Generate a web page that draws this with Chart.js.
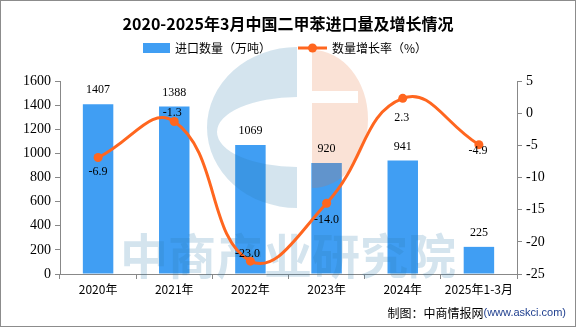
<!DOCTYPE html>
<html>
<head>
<meta charset="utf-8">
<script src="https://cdn.jsdelivr.net/npm/chart.js@4.4.1/dist/chart.umd.min.js"></script>
<style>
  html, body { margin: 0; padding: 0; background: #fff; }
  #wrap { width: 576px; height: 327px; border: 1px solid #8c8c8c; box-sizing: border-box; }
  canvas { display: block; }
</style>
</head>
<body>
<div id="wrap"><canvas id="chart" width="574" height="325"></canvas></div>
<script>
const categories = ['2020年', '2021年', '2022年', '2023年', '2024年', '2025年1-3月'];
const importVolume = [1407, 1388, 1069, 920, 941, 225];
const growthRate = [-6.9, -1.3, -23.0, -14.0, 2.3, -4.9];
const leftTicks = [0, 1600, 200];
const rightTicks = [-25, 5, 5];

const BAR_COLOR = '#409ef3';
const LINE_COLOR = '#ff661f';
const NUM_FONT = '"Liberation Serif", serif';
const CJK_FONT = '"Noto Sans CJK SC", sans-serif';

// --- Title, legend, footer ---
const decorPlugin = {
    id: 'decor',
    afterDraw(chart) {
        const ctx = chart.ctx;
        ctx.save();
        ctx.fillStyle = '#000';
        ctx.textBaseline = 'middle';
        ctx.textAlign = 'center';
        ctx.font = 'bold 16px ' + CJK_FONT;
        ctx.fillText('2020-2025年3月中国二甲苯进口量及增长情况', 287, 23);

        // legend
        ctx.font = '12px ' + CJK_FONT;
        ctx.textAlign = 'left';
        ctx.fillStyle = BAR_COLOR;
        ctx.fillRect(142, 42, 27, 10);
        ctx.fillStyle = '#000';
        ctx.fillText('进口数量（万吨）', 174, 47);
        ctx.strokeStyle = LINE_COLOR;
        ctx.lineWidth = 3;
        ctx.beginPath();
        ctx.moveTo(297, 47);
        ctx.lineTo(326, 47);
        ctx.stroke();
        ctx.fillStyle = LINE_COLOR;
        ctx.beginPath();
        ctx.arc(311.5, 47, 4.5, 0, Math.PI * 2);
        ctx.fill();
        ctx.fillStyle = '#000';
        ctx.fillText('数量增长率（%）', 331, 47);

        // footer
        ctx.textAlign = 'right';
        ctx.font = '11px "Liberation Sans", sans-serif';
        ctx.fillStyle = '#1f3f8f';
        ctx.fillText('(www.askci.com)', 565, 312);
        const w = ctx.measureText('(www.askci.com)').width;
        ctx.font = '12px ' + CJK_FONT;
        ctx.fillStyle = '#000';
        ctx.fillText('制图：中商情报网', 565 - w, 312);
        ctx.restore();
    }
};

// --- Watermark, drawn over the bars but under the line ---
const watermarkPlugin = {
    id: 'watermark',
    afterDatasetDraw(chart, args) {
        if (args.index !== 0) return;
        const ctx = chart.ctx;
        ctx.save();
        // blue C
        ctx.fillStyle = 'rgba(40,120,170,0.2)';
        ctx.beginPath();
        ctx.ellipse(296, 126.5, 90, 80.5, 0, Math.PI / 2, Math.PI * 1.5);
        ctx.closePath();
        ctx.ellipse(296, 131, 80, 35, 0, Math.PI * 1.5, Math.PI / 2, true);
        ctx.closePath();
        ctx.fill('evenodd');
        // orange half
        ctx.fillStyle = 'rgba(230,110,50,0.2)';
        ctx.beginPath();
        ctx.moveTo(311, 49);
        ctx.ellipse(311, 118, 56, 69, 0, -Math.PI / 2, Math.PI / 2);
        ctx.lineTo(311, 102);
        ctx.lineTo(357, 102);
        ctx.lineTo(357, 90);
        ctx.lineTo(311, 90);
        ctx.closePath();
        ctx.fill();
        // text
        ctx.fillStyle = 'rgba(40,120,170,0.2)';
        ctx.font = 'bold 48px ' + CJK_FONT;
        ctx.textAlign = 'center';
        ctx.textBaseline = 'middle';
        ctx.fillText('中商产业研究院', 287, 255);
        ctx.restore();
    }
};

// --- Value labels ---
const labelPlugin = {
    id: 'valueLabels',
    afterDatasetsDraw(chart) {
        const ctx = chart.ctx;
        ctx.save();
        ctx.font = '12px ' + NUM_FONT;
        ctx.fillStyle = '#000';
        ctx.textAlign = 'center';
        ctx.textBaseline = 'middle';
        chart.getDatasetMeta(0).data.forEach((bar, i) => {
            ctx.fillText(String(importVolume[i]), bar.x, bar.y - 14);
        });
        const offs = [[0, 14], [-2, -9], [-3, -7], [0, 17], [-1, 19], [-1, 6]];
        chart.getDatasetMeta(1).data.forEach((pt, i) => {
            ctx.fillText(growthRate[i].toFixed(1), pt.x + offs[i][0], pt.y + offs[i][1]);
        });
        ctx.restore();
    }
};

function initChart() {
    const ctx = document.getElementById('chart').getContext('2d');
    const axisGrid = { display: true, drawOnChartArea: false, drawTicks: true, tickLength: 5, color: '#888' };
    const axisBorder = { display: true, color: '#888', width: 1 };
    const plain = v => String(v);
    return new Chart(ctx, {
        type: 'bar',
        data: {
            labels: categories,
            datasets: [
                {
                    label: '进口数量（万吨）',
                    data: importVolume,
                    backgroundColor: BAR_COLOR,
                    yAxisID: 'y',
                    categoryPercentage: 1,
                    barPercentage: 0.4,
                    order: 1
                },
                {
                    type: 'line',
                    label: '数量增长率（%）',
                    data: growthRate,
                    borderColor: LINE_COLOR,
                    backgroundColor: LINE_COLOR,
                    borderWidth: 3,
                    pointRadius: 4.5,
                    pointBorderWidth: 0,
                    tension: 0.45,
                    yAxisID: 'y1',
                    order: 0
                }
            ]
        },
        options: {
            responsive: false,
            animation: false,
            devicePixelRatio: 1,
            layout: { padding: { top: 80, bottom: 22, left: 0, right: 0 } },
            plugins: { legend: { display: false }, title: { display: false }, tooltip: { enabled: false } },
            scales: {
                x: {
                    grid: Object.assign({}, axisGrid, { offset: true }),
                    border: axisBorder,
                    ticks: { color: '#000', font: { family: CJK_FONT, size: 12 }, padding: 3, maxRotation: 0, autoSkip: false },
                    afterFit: s => { s.height = 30; }
                },
                y: {
                    position: 'left',
                    min: leftTicks[0],
                    max: leftTicks[1],
                    grid: axisGrid,
                    border: axisBorder,
                    ticks: { stepSize: leftTicks[2], color: '#000', font: { family: NUM_FONT, size: 14 }, padding: 4, callback: plain },
                    afterFit: s => { s.width = 59; }
                },
                y1: {
                    position: 'right',
                    min: rightTicks[0],
                    max: rightTicks[1],
                    grid: axisGrid,
                    border: axisBorder,
                    ticks: { stepSize: rightTicks[2], color: '#000', font: { family: NUM_FONT, size: 14 }, padding: 4, callback: plain },
                    afterFit: s => { s.width = 58; }
                }
            }
        },
        plugins: [watermarkPlugin, labelPlugin, decorPlugin]
    });
}

initChart();
</script>
</body>
</html>
